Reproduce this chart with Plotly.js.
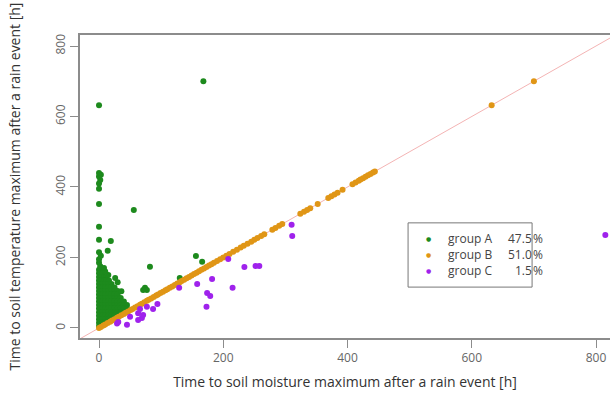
<!DOCTYPE html>
<html>
<head>
<meta charset="utf-8">
<script src="https://cdn.plot.ly/plotly-3.0.1.min.js"></script>
<style>html,body{margin:0;padding:0;background:#fff;}#chart{width:610px;height:394px;}</style>
</head>
<body>
<div id="chart"></div>
<script>
// Group A: soil temperature maximum later than soil moisture maximum
const groupA_x = [
  0,2, 0,3,6, 0,4,8,12, 0,4,8,12,16, 0,5,10,15,20, 0,5,10,15,20,25,
  0,5,10,15,20,25,30, 0,5,10,15,20,25,30, 0,5,10,15,20,25,30,35,
  0,5,10,15,20,25,30,35,40, 0,5,10,15,20,25,30,35,40,45,
  0,5,10,15,20,25,30,35,40,45, 0,5,10,15,20,25,30,35,40,
  0,5,10,15,20,25,30, 0,5,10,15,20, 0,5,10, 0,3,
  2,0,0,3,0,14,19,0,0,0,0,0,2,0,3,0,0,168,56,82,74,77,71,30,36,26,15,156,166,130,10,8
];
const groupA_y = [
  165,165, 155,155,155, 145,145,145,145, 135,135,135,135,135, 125,125,125,125,125, 115,115,115,115,115,115,
  105,105,105,105,105,105,105, 95,95,95,95,95,95,95, 85,85,85,85,85,85,85,85,
  75,75,75,75,75,75,75,75,75, 65,65,65,65,65,65,65,65,65,65,
  55,55,55,55,55,55,55,55,55,55, 45,45,45,45,45,45,45,45,45,
  35,35,35,35,35,35,35, 25,25,25,25,25, 15,15,15, 5,5,
  175,185,195,205,215,219,247,250,287,352,395,410,420,430,435,440,632,700,335,174,114,108,108,130,104,142,150,204,188,142,160,170
];
// Group B: both maxima at the same time
const groupB_x = [
  0,3,7,10,14,18,21,25,29,32,36,40,43,47,51,54,58,62,66,69,73,77,80,84,88,92,95,99,
  103,107,110,114,118,122,126,130,133,137,141,145,149,153,157,161,165,169,173,177,181,185,
  190,195,200,205,210,216,222,228,233,239,245,250,255,261,266,279,284,290,295,
  324,330,335,340,352,369,374,379,384,392,408,413,418,421,425,429,433,437,441,444,632,700
];
const groupB_y = [
  0,3,7,10,14,18,21,25,29,32,36,40,43,47,51,54,58,62,66,69,73,77,80,84,88,92,95,99,
  103,107,110,114,118,122,126,130,133,137,141,145,149,153,157,161,165,169,173,177,181,185,
  190,195,200,205,210,216,222,228,233,239,245,250,255,261,266,279,284,290,295,
  324,330,335,340,352,369,374,379,384,392,408,413,418,421,425,429,433,437,441,444,632,700
];
// Group C: soil temperature maximum earlier than soil moisture maximum
const groupC_x = [310,311,208,234,252,258,182,158,215,129,174,179,173,94,87,69,63,50,45,29,77,66,71,31,63,815];
const groupC_y = [293,261,196,173,176,176,139,125,114,114,99,91,60,68,54,28,42,32,9,13,60,54,37,17,23,264];
// 1:1 reference line
const refLine_x = [-100, 1000];
const refLine_y = [-100, 1000];

const legendNames = ['group A', 'group B', 'group C'];
const legendPercent = ['47.5', '51.0', '1.5'];
const tickVals = [0, 200, 400, 600, 800];

const colA = '#1d8a1d', colB = '#e09616', colC = '#9f22ec';
const mk = (c) => ({color: c, size: 6, line: {width: 0}});

const traces = [
  {x: refLine_x, y: refLine_y, mode: 'lines', line: {color: '#f4b4b4', width: 1}, hoverinfo: 'skip'},
  {x: groupA_x, y: groupA_y, mode: 'markers', marker: mk(colA), name: legendNames[0]},
  {x: groupB_x, y: groupB_y, mode: 'markers', marker: mk(colB), name: legendNames[1]},
  {x: groupC_x, y: groupC_y, mode: 'markers', marker: mk(colC), name: legendNames[2]}
];

const font = 'Open Sans, Liberation Sans, sans-serif';
const rowY = [0.327, 0.277, 0.224];
const cols = [colA, colB, colC];
const annotations = [];
for (let i = 0; i < 3; i++) {
  annotations.push({xref: 'paper', yref: 'paper', x: 0.657, y: rowY[i], text: '●', showarrow: false,
    xanchor: 'center', yanchor: 'middle', font: {family: 'DejaVu Sans', size: 6, color: cols[i]}});
  annotations.push({xref: 'paper', yref: 'paper', x: 0.690, y: rowY[i], text: legendNames[i], showarrow: false,
    xanchor: 'left', yanchor: 'middle', font: {family: font, size: 12, color: '#444'}});
  annotations.push({xref: 'paper', yref: 'paper', x: 0.856, y: rowY[i], text: legendPercent[i], showarrow: false,
    xanchor: 'right', yanchor: 'middle', font: {family: font, size: 12, color: '#444'}});
  annotations.push({xref: 'paper', yref: 'paper', x: 0.851, y: rowY[i], text: '%', showarrow: false,
    xanchor: 'left', yanchor: 'middle', font: {family: font, size: 12, color: '#444'}});
}

const layout = {
  width: 610, height: 394,
  margin: {l: 80, r: 0, t: 35, b: 56},
  paper_bgcolor: '#fff', plot_bgcolor: '#fff',
  showlegend: false,
  font: {family: font, color: '#555'},
  xaxis: {
    range: [-30.6, 822.5], tickvals: tickVals, ticktext: tickVals.map(String),
    showgrid: false, zeroline: false, showline: true, mirror: true, linecolor: '#8c8c8c', linewidth: 2,
    ticks: 'outside', ticklen: 8, tickwidth: 1, tickcolor: '#8c8c8c',
    tickfont: {size: 12, color: '#666'},
    title: {text: 'Time to soil moisture maximum after a rain event [h]', font: {size: 14, color: '#333'}, standoff: 12}
  },
  yaxis: {
    range: [-28.4, 831.2], tickvals: tickVals, ticktext: tickVals.map(String),
    showgrid: false, zeroline: false, showline: true, mirror: false, linecolor: '#8c8c8c', linewidth: 2,
    ticks: 'outside', ticklen: 8, tickwidth: 1, tickcolor: '#8c8c8c', tickangle: -90,
    tickfont: {size: 12, color: '#666'},
    title: {text: 'Time to soil temperature maximum after a rain event [h]', font: {size: 14, color: '#333'}, standoff: 28}
  },
  shapes: [
    {type: 'rect', xref: 'paper', yref: 'paper', x0: 0.619, x1: 0.853, y0: 0.168, y1: 0.380,
     line: {color: '#777', width: 1}, fillcolor: 'rgba(0,0,0,0)'}
  ],
  annotations: annotations
};

Plotly.newPlot('chart', traces, layout, {displayModeBar: false, staticPlot: true});
</script>
</body>
</html>
